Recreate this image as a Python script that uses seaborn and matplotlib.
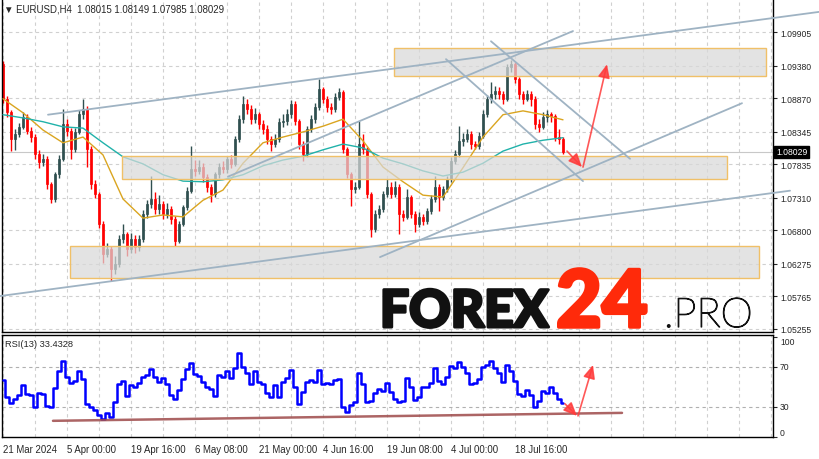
"""EURUSD H4 chart with zones, trend lines and RSI panel (MT4 style)."""

import matplotlib.pyplot as plt
import matplotlib.patheffects as pe
from matplotlib.patches import Rectangle
import seaborn as sns
import numpy as np

sns.set_style("white")
plt.rcParams['font.family'] = ['Liberation Sans', 'DejaVu Sans']

# ---- data (one coarse candle = about 4 H4 bars) ----
symbol = "EURUSD,H4"
last_bar = [1.08015, 1.08149, 1.07985, 1.08029]   # O H L C of the last H4 bar
first_open = 1.0940

closes = [1.0886, 1.0865, 1.0823, 1.0831, 1.0842, 1.0857, 1.0836, 1.0826, 1.0799, 1.0787,
          1.0792, 1.0752, 1.0729, 1.0768, 1.0792, 1.0846, 1.0836, 1.0807, 1.0834, 1.0862,
          1.0870, 1.0807, 1.0752, 1.0737, 1.0690, 1.0643, 1.0651, 1.0619, 1.0627, 1.0666,
          1.0674, 1.0651, 1.0666, 1.0654, 1.0666, 1.0706, 1.0721, 1.0729, 1.0713, 1.0721,
          1.0706, 1.0713, 1.0698, 1.0663, 1.0690, 1.0716, 1.0742, 1.0776, 1.0773, 1.0779,
          1.0763, 1.0748, 1.0737, 1.0768, 1.0779, 1.0776, 1.0792, 1.0784, 1.0823, 1.0854,
          1.0878, 1.0870, 1.0854, 1.0862, 1.0846, 1.0839, 1.0823, 1.0815, 1.0823, 1.0850,
          1.0851, 1.0862, 1.0878, 1.0851, 1.0815, 1.0799, 1.0839, 1.0854, 1.0873, 1.0901,
          1.0886, 1.0873, 1.0870, 1.0889, 1.0897, 1.0807, 1.0768, 1.0745, 1.0748, 1.0815,
          1.0807, 1.0737, 1.0682, 1.0706, 1.0713, 1.0737, 1.0748, 1.0737, 1.0748, 1.0706,
          1.0701, 1.0732, 1.0706, 1.0690, 1.0701, 1.0695, 1.0710, 1.0729, 1.0748, 1.0732,
          1.0745, 1.0760, 1.0789, 1.0799, 1.0820, 1.0823, 1.0831, 1.0815, 1.0812, 1.0828,
          1.0862, 1.0886, 1.0893, 1.0898, 1.0893, 1.0886, 1.0936, 1.0940, 1.0917, 1.0893,
          1.0886, 1.0893, 1.0886, 1.0846, 1.0842, 1.0857, 1.0862, 1.0859, 1.0826, 1.0823,
          1.0803]

highs = [1.0945, 1.0890, 1.0868, 1.0838, 1.0848, 1.0866, 1.0862, 1.0842, 1.0830, 1.0805,
         1.0800, 1.0796, 1.0756, 1.0772, 1.0798, 1.0870, 1.0855, 1.0840, 1.0840, 1.0868,
         1.0886, 1.0874, 1.0812, 1.0758, 1.0740, 1.0694, 1.0660, 1.0656, 1.0640, 1.0672,
         1.0690, 1.0678, 1.0675, 1.0672, 1.0672, 1.0712, 1.0728, 1.0765, 1.0740, 1.0735,
         1.0726, 1.0722, 1.0718, 1.0702, 1.0695, 1.0720, 1.0748, 1.0812, 1.0790, 1.0790,
         1.0785, 1.0768, 1.0752, 1.0772, 1.0786, 1.0788, 1.0797, 1.0798, 1.0828, 1.0860,
         1.0890, 1.0886, 1.0876, 1.0872, 1.0866, 1.0852, 1.0845, 1.0828, 1.0830, 1.0856,
         1.0862, 1.0870, 1.0884, 1.0882, 1.0855, 1.0820, 1.0843, 1.0860, 1.0880, 1.0917,
         1.0905, 1.0890, 1.0880, 1.0895, 1.0903, 1.0900, 1.0810, 1.0772, 1.0755, 1.0851,
         1.0830, 1.0810, 1.0740, 1.0712, 1.0720, 1.0742, 1.0760, 1.0755, 1.0757, 1.0752,
         1.0712, 1.0745, 1.0736, 1.0710, 1.0708, 1.0706, 1.0715, 1.0735, 1.0765, 1.0752,
         1.0750, 1.0765, 1.0794, 1.0806, 1.0843, 1.0832, 1.0838, 1.0836, 1.0820, 1.0834,
         1.0868, 1.0892, 1.0912, 1.0906, 1.0904, 1.0898, 1.0940, 1.0947, 1.0943, 1.0920,
         1.0898, 1.0900, 1.0898, 1.0890, 1.0855, 1.0866, 1.0868, 1.0866, 1.0862, 1.0839,
         1.0826]

lows = [1.0880, 1.0858, 1.0804, 1.0806, 1.0826, 1.0838, 1.0830, 1.0818, 1.0792, 1.0778,
        1.0780, 1.0745, 1.0723, 1.0725, 1.0762, 1.0788, 1.0828, 1.0792, 1.0802, 1.0830,
        1.0855, 1.0779, 1.0745, 1.0730, 1.0684, 1.0629, 1.0638, 1.0601, 1.0612, 1.0622,
        1.0660, 1.0640, 1.0645, 1.0645, 1.0648, 1.0662, 1.0700, 1.0715, 1.0705, 1.0706,
        1.0698, 1.0700, 1.0690, 1.0655, 1.0660, 1.0686, 1.0712, 1.0738, 1.0765, 1.0768,
        1.0756, 1.0740, 1.0724, 1.0732, 1.0762, 1.0770, 1.0770, 1.0778, 1.0780, 1.0818,
        1.0848, 1.0862, 1.0846, 1.0848, 1.0838, 1.0830, 1.0815, 1.0804, 1.0810, 1.0818,
        1.0842, 1.0845, 1.0856, 1.0845, 1.0808, 1.0788, 1.0795, 1.0834, 1.0848, 1.0868,
        1.0880, 1.0866, 1.0862, 1.0865, 1.0884, 1.0801, 1.0762, 1.0718, 1.0738, 1.0744,
        1.0800, 1.0730, 1.0669, 1.0678, 1.0700, 1.0708, 1.0732, 1.0730, 1.0732, 1.0674,
        1.0694, 1.0698, 1.0700, 1.0677, 1.0685, 1.0688, 1.0690, 1.0705, 1.0724, 1.0710,
        1.0728, 1.0740, 1.0755, 1.0784, 1.0795, 1.0812, 1.0818, 1.0808, 1.0807, 1.0808,
        1.0824, 1.0858, 1.0880, 1.0886, 1.0886, 1.0878, 1.0882, 1.0928, 1.0910, 1.0886,
        1.0878, 1.0882, 1.0875, 1.0838, 1.0834, 1.0838, 1.0850, 1.0850, 1.0820, 1.0815,
        1.0799]

# moving averages, one value every 5 candles
ma_fast = [1.0886, 1.0864, 1.0837, 1.0817, 1.0826, 1.0798, 1.0729, 1.0699, 1.0704, 1.0701,
           1.0727, 1.0743, 1.0785, 1.0817, 1.0826, 1.0834, 1.0843, 1.0854, 1.0820, 1.0779,
           1.0756, 1.0735, 1.0732, 1.0778, 1.0826, 1.0861, 1.0867, 1.0861, 1.0853]
ma_slow = [1.0861, 1.0856, 1.0850, 1.0842, 1.0840, 1.0817, 1.0795, 1.0784, 1.0767, 1.0757,
           1.0756, 1.0759, 1.0767, 1.0781, 1.0790, 1.0796, 1.0806, 1.0815, 1.0809, 1.0793,
           1.0784, 1.0773, 1.0765, 1.0771, 1.0785, 1.0804, 1.0815, 1.0821, 1.0825]

rsi = [57, 40, 34, 38, 42, 52, 43, 42, 30, 44,
       43, 31, 30, 49, 66, 76, 60, 54, 56, 66,
       58, 33, 30, 27, 22, 18, 24, 20, 35, 53,
       56, 41, 52, 50, 54, 60, 62, 68, 60, 55,
       59, 53, 42, 38, 47, 58, 68, 74, 63, 61,
       55, 50, 48, 41, 62, 60, 66, 59, 69, 84,
       70, 64, 53, 66, 55, 53, 44, 40, 52, 40,
       55, 59, 67, 50, 33, 45, 55, 57, 55, 67,
       53, 54, 53, 57, 58, 30, 25, 32, 35, 64,
       53, 35, 36, 44, 48, 46, 54, 45, 38, 35,
       36, 59, 50, 37, 40, 50, 50, 54, 69, 56,
       53, 60, 71, 69, 75, 70, 64, 53, 54, 58,
       70, 72, 76, 69, 64, 55, 72, 66, 56, 43,
       41, 47, 42, 30, 36, 46, 44, 50, 44, 38,
       33.4328]

price_ticks = [1.09905, 1.09380, 1.08870, 1.08345, 1.07835,
               1.07310, 1.06800, 1.06275, 1.05765, 1.05255]
rsi_ticks = [100, 70, 30, 0]
date_labels = ["21 Mar 2024", "5 Apr 00:00", "19 Apr 16:00", "6 May 08:00",
               "21 May 00:00", "4 Jun 16:00", "19 Jun 08:00", "4 Jul 00:00",
               "18 Jul 16:00"]

# analyst drawings: (candle index, price)
zones = [((97.75, 1.0922), (190.75, 1.0965)),
         ((29.75, 1.0760), (181.0, 1.0796)),
         ((16.75, 1.0605), (189.0, 1.0655))]
trend_lines = [((11.25, 1.0861), (204.0, 1.1022)),
               ((-0.75, 1.0577), (196.75, 1.0742)),
               ((94.25, 1.0638), (184.75, 1.0879)),
               ((56.25, 1.0764), (142.5, 1.0992)),
               ((122.0, 1.0976), (156.75, 1.0792)),
               ((110.75, 1.0948), (145.0, 1.0757))]
price_arrows = [((141.0, 1.0804), (144.75, 1.0779)),
                ((145.0, 1.0779), (151.0, 1.0940))]
rsi_arrows = [((140.5, 33.0), (143.5, 21.0)),
              ((143.75, 21.0), (147.5, 71.7))]
rsi_line = ((12.5, 16.1), (154.75, 24.0))

# ---- figure ----
W, H = 819, 460
fig = plt.figure(figsize=(W / 100, H / 100), dpi=100)


def px_axes(x0, y0, x1, y1):
    return fig.add_axes([x0 / W, 1 - y1 / H, (x1 - x0) / W, (y1 - y0) / H])


ax = px_axes(2, 0, 773, 333)
ax_rsi = px_axes(2, 336, 773, 438)

idx = np.arange(len(closes))
c = np.array(closes)
o = np.array([first_open] + closes[:-1])
up = c >= o
bull, bear = '#2F4F4F', '#FF0000'
colors = np.where(up, bull, bear)

grid_kw = dict(color='#D0D0D0', linestyle=(0, (3, 3)), linewidth=0.8)
arrow_kw = dict(arrowstyle='-|>,head_length=0.9,head_width=0.4', color='#FF3B3B',
                alpha=0.85, lw=1.2, shrinkA=0, shrinkB=0, mutation_scale=9)

# candles
ax.vlines(idx, lows, highs, colors=colors, linewidth=1, zorder=2)
ax.bar(idx, np.abs(c - o), bottom=np.minimum(o, c), width=0.6,
       color=colors, edgecolor=colors, linewidth=0.5, zorder=2)

ma_idx = np.arange(0, len(closes), 5)
sns.lineplot(x=ma_idx, y=ma_fast, ax=ax, color='#DAA520', linewidth=1, zorder=3)
sns.lineplot(x=ma_idx, y=ma_slow, ax=ax, color='#20B2AA', linewidth=1, zorder=3)

ax.axhline(last_bar[3], color='#C8C8C8', linewidth=0.8, zorder=1)

for (x0, p0), (x1, p1) in zones:
    ax.add_patch(Rectangle((x0, p0), x1 - x0, p1 - p0, facecolor=(0.85, 0.85, 0.85, 0.72),
                           edgecolor='#F0C068', linewidth=1, zorder=4))

for (x0, p0), (x1, p1) in trend_lines:
    ax.plot([x0, x1], [p0, p1], color='#9FB3C3', linewidth=1.3, clip_on=False, zorder=5)

for (x0, p0), (x1, p1) in price_arrows:
    ax.annotate('', xy=(x1, p1), xytext=(x0, p0), annotation_clip=False, zorder=6,
                arrowprops=arrow_kw)

ax.set_xlim(-0.25, 192.5)
ax.set_ylim(1.05207, 1.10422)
ax.yaxis.tick_right()
ax.set_yticks(price_ticks)
ax.set_yticklabels([f'{v:.5f}' for v in price_ticks])
ax.set_xticks(np.arange(0, 193, 8))
ax.tick_params(axis='x', length=0, labelbottom=False)
ax.tick_params(axis='y', length=3, width=0.8, pad=2, labelsize=6.2, direction='out')
ax.grid(True, **grid_kw)
ax.set_axisbelow(True)
ax.spines['top'].set_visible(False)
for s in ['left', 'right', 'bottom']:
    ax.spines[s].set_color('black')
    ax.spines[s].set_linewidth(1)

ax.text(1.004, last_bar[3], f'{last_bar[3]:.5f}', transform=ax.get_yaxis_transform(),
        color='white', fontsize=6.2, va='center', ha='left', clip_on=False, zorder=10,
        bbox=dict(boxstyle='square,pad=0.2', fc='black', ec='black'))

# ---- RSI panel ----
sns.lineplot(x=idx, y=rsi, ax=ax_rsi, color='#0000FF', linewidth=1.8,
             drawstyle='steps-mid', zorder=3)
for lvl in (70, 30):
    ax_rsi.axhline(lvl, color='#B0B0B0', linestyle=(0, (3, 3)), linewidth=0.8, zorder=1)
(x0, r0), (x1, r1) = rsi_line
ax_rsi.plot([x0, x1], [r0, r1], color='#9E4A4A', linewidth=1.8, alpha=0.85, zorder=4)
for (x0, r0), (x1, r1) in rsi_arrows:
    ax_rsi.annotate('', xy=(x1, r1), xytext=(x0, r0), annotation_clip=False, zorder=6,
                    arrowprops=arrow_kw)

ax_rsi.set_xlim(-0.25, 192.5)
ax_rsi.set_ylim(0, 101.5)
ax_rsi.yaxis.tick_right()
ax_rsi.set_yticks(rsi_ticks)
ax_rsi.set_yticklabels([str(v) for v in rsi_ticks])
for lbl, va in zip(ax_rsi.get_yticklabels(), ['top', 'center', 'center', 'bottom']):
    lbl.set_verticalalignment(va)
ax_rsi.set_xticks(np.arange(len(date_labels)) * 16)
ax_rsi.set_xticklabels(date_labels, ha='left')
ax_rsi.set_xticks(np.arange(0, 193, 8), minor=True)
ax_rsi.tick_params(axis='y', which='major', length=3, width=0.8, pad=2,
                   labelsize=6.2, direction='out')
ax_rsi.tick_params(axis='x', which='major', length=3, width=0.8, pad=2,
                   labelsize=6.9, direction='out')
ax_rsi.tick_params(axis='x', which='minor', length=0)
ax_rsi.grid(True, axis='x', which='both', **grid_kw)
ax_rsi.set_axisbelow(True)
for s in ax_rsi.spines.values():
    s.set_color('black')
    s.set_linewidth(1)

ax_rsi.text(0.004, 0.92, f'RSI(13) {rsi[-1]:.4f}', transform=ax_rsi.transAxes,
            fontsize=6.7, va='center', ha='left')

# ---- header & watermark ----
fig.text(4 / W, 1 - 10 / H,
         f'\u25BC {symbol}  ' + ' '.join(f'{v:.5f}' for v in last_bar),
         fontsize=6.9, va='center', ha='left')

heavy = [pe.withStroke(linewidth=2.2, foreground='#111111')]
fig.text(380 / W, 1 - 328 / H, 'FOREX', fontsize=37, family='Lato', weight='black',
         color='#111111', va='baseline', ha='left', zorder=20, path_effects=heavy)
fig.text(556 / W, 1 - 328 / H, '24', fontsize=57, family='Lato', weight='black',
         color='#FF2A0A', va='baseline', ha='left', zorder=20,
         path_effects=[pe.withStroke(linewidth=2.5, foreground='#FF2A0A')])
fig.text(664 / W, 1 - 328 / H, '.PRO', fontsize=29.5, family='Lato', weight='light',
         color='#111111', va='baseline', ha='left', zorder=20,
         path_effects=[pe.withStroke(linewidth=0.9, foreground='#111111')])

fig.savefig('out.png', dpi=100)
plt.close(fig)
